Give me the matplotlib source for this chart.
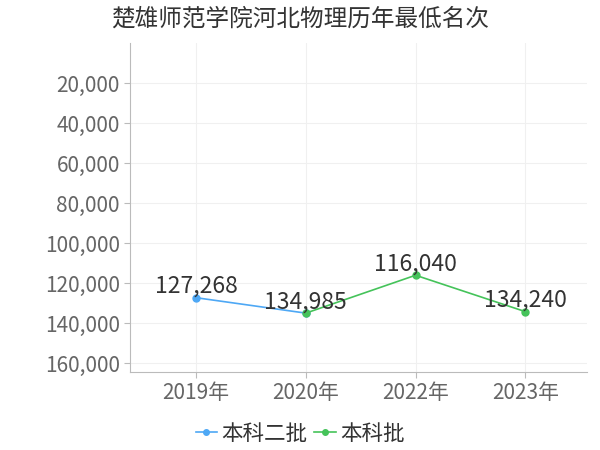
import numpy as np
import matplotlib
matplotlib.use("Agg")
from matplotlib import pyplot as plt
from matplotlib.ticker import FuncFormatter

plt.rcParams['font.family'] = ['Noto Sans CJK SC', 'DejaVu Sans']

# data
years = ['2019年', '2020年', '2022年', '2023年']
batch2 = [127268, 134985, np.nan, np.nan]   # 本科二批
batch = [np.nan, 134985, 116040, 134240]    # 本科批
y_ticks = [20000, 40000, 60000, 80000, 100000, 120000, 140000, 160000]

blue = '#4ea8f5'
green = '#45c35a'

fig = plt.figure(figsize=(6, 4.5), dpi=100)
ax = fig.add_axes([0.217, 0.173, 0.761, 0.731])

x = np.arange(len(years))
ax.plot(x, batch2, color=blue, lw=1.2, marker='o', ms=5, label='本科二批', zorder=3)
ax.plot(x, batch, color=green, lw=1.2, marker='o', ms=5, label='本科批', zorder=3)

labels = {0: 127268, 1: 134985, 2: 116040, 3: 134240}
for i, v in labels.items():
    ax.annotate(f'{v:,}', (i, v), xytext=(0, 0), textcoords='offset points',
                ha='center', va='bottom', fontsize=16.5, color='#333333', zorder=4)

ax.set_xlim(-0.6, 3.56)
ax.set_ylim(164500, 0)
ax.set_yticks(y_ticks)
ax.yaxis.set_major_formatter(FuncFormatter(lambda v, p: f'{int(v):,}'))
ax.set_xticks(x)
ax.set_xticklabels(years)
ax.tick_params(axis='both', labelsize=15, labelcolor='#666666', color='#bbbbbb', length=4)
ax.tick_params(axis='x', pad=3)
ax.grid(True, color='#f0f0f0', lw=0.8)
ax.set_axisbelow(True)
for s in ['top', 'right']:
    ax.spines[s].set_visible(False)
for s in ['left', 'bottom']:
    ax.spines[s].set_color('#bbbbbb')

fig.suptitle('楚雄师范学院河北物理历年最低名次', x=0.5, y=0.982, fontsize=17, color='#333333')
fig.legend(loc='lower center', bbox_to_anchor=(0.5, -0.032), ncol=2, frameon=False,
           fontsize=15.5, handlelength=1.0, handletextpad=0.2, columnspacing=0.3,
           labelcolor='#333333', markerscale=0.8)

fig.savefig('out.png')
